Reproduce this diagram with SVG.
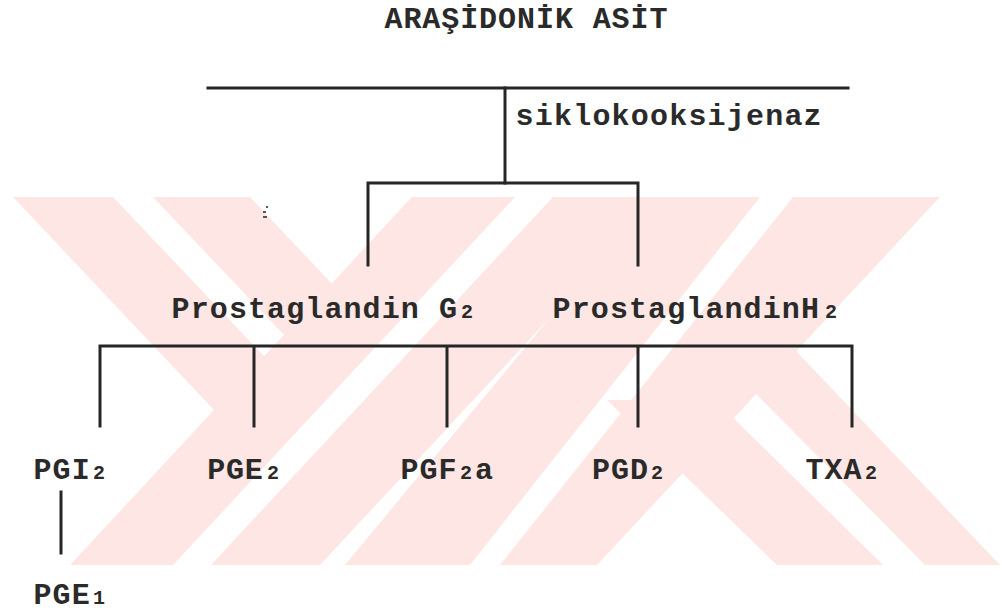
<svg xmlns="http://www.w3.org/2000/svg" width="1002" height="612" viewBox="0 0 1002 612">
<style>
.wm{fill:#fde6e3;stroke:none}
.ln{stroke:#262626;stroke-width:3;fill:none;stroke-linecap:square}
.t{font-family:"Liberation Mono","DejaVu Sans Mono",monospace;font-weight:bold;font-size:30px;text-anchor:middle;fill:#2a2a2a}
.s{font-size:20px}
</style>
<rect width="1002" height="612" fill="#ffffff"/>
<g id="watermark">
<polygon class="wm" points="13,197 113,197 316,411 215,411"/>
<polygon class="wm" points="153,197 250,197 383,338 287,338"/>
<polygon class="wm" points="70,565 173,565 515,197 412,197"/>
<polygon class="wm" points="211,565 320,565 662,197 553,197"/>
<polygon class="wm" points="345,565 470,565 760,197 650,197"/>
<polygon class="wm" points="793,197 940,197 597,565 500,565"/>
<polygon class="wm" points="607,400 715,400 883,565 777,565"/>
<polygon class="wm" points="712,349 794,349 1000,565 925,565"/>
</g>
<g id="artifact" fill="#555">
<rect x="266" y="206" width="2" height="2"/>
<rect x="263" y="211" width="3" height="2"/>
<rect x="263" y="216" width="4" height="2"/>
</g>
<g id="connectors">
<path class="ln" d="M208,88 H848"/>
<path class="ln" d="M505,88 V183"/>
<path class="ln" d="M368,183 H638 M368,183 V265 M638,183 V265"/>
<path class="ln" d="M100,346 H852 M100,346 V426 M254,346 V426 M447,346 V426 M638,346 V426 M852,346 V426"/>
<path class="ln" d="M61,492 V553"/>
</g>
<g id="node-arasidonik"><text class="t" x="393.5 412.4 431.3 450.3 469.2 488.1 507.1 526 544.9 563.9 582.8 601.7 620.6 639.6 658.5" y="28">ARAŞİDONİK ASİT</text></g>
<g id="label-siklo"><text class="t" x="524.6 543.8 563 582.2 601.4 620.6 639.8 659 678.2 697.4 716.6 735.8 755 774.2 793.4 812.6" y="125">siklokooksijenaz</text></g>
<g id="node-pgg2"><text class="t" x="180.6 199.7 218.8 237.9 257 276.1 295.2 314.3 333.4 352.5 371.6 390.7 409.8 428.9 448" y="318">Prostaglandin G<tspan class="s" x="467">2</tspan></text></g>
<g id="node-pgh2"><text class="t" x="561.6 580.7 599.8 618.9 638 657.1 676.2 695.3 714.4 733.5 752.6 771.7 790.8 809.9" y="318">ProstaglandinH<tspan class="s" x="831">2</tspan></text></g>
<g id="node-pgi2"><text class="t" x="42.5 61.6 80.7" y="479">PGI<tspan class="s" x="99">2</tspan></text></g>
<g id="node-pge2"><text class="t" x="216.3 235 253.7" y="479">PGE<tspan class="s" x="273">2</tspan></text></g>
<g id="node-pgf2a"><text class="t" x="409.5 428.5 447.5" y="479">PGF<tspan class="s" x="466">2</tspan><tspan x="484">a</tspan></text></g>
<g id="node-pgd2"><text class="t" x="601 620 639" y="479">PGD<tspan class="s" x="657">2</tspan></text></g>
<g id="node-txa2"><text class="t" x="814.5 833.5 852.5" y="479">TXA<tspan class="s" x="871">2</tspan></text></g>
<g id="node-pge1"><text class="t" x="42.5 61.6 80.7" y="604">PGE<tspan class="s" x="99">1</tspan></text></g>
</svg>
